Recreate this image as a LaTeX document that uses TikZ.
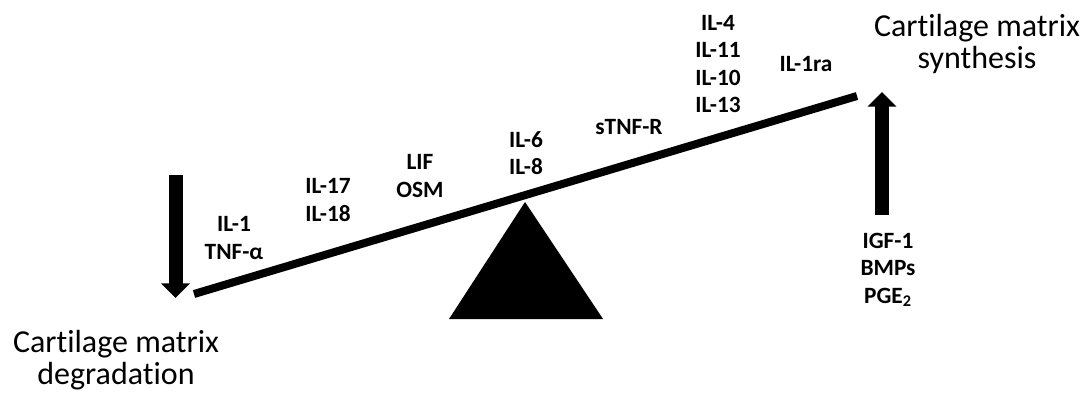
\documentclass[tikz,border=0pt]{standalone}
\usepackage{fontspec}
\setmainfont{Carlito}[Ligatures=NoCommon]
\usetikzlibrary{arrows.meta}

\tikzset{
  cyto/.style={font=\fontsize{17.5}{20.6}\selectfont\bfseries, align=center, inner sep=0pt},
  outcome/.style={font=\fontsize{24}{23.5}\selectfont, align=center, inner sep=0pt},
  blockarrow/.style={line width=10.5pt, -{Triangle[length=11pt,width=21pt]}}
}

\begin{document}
\begin{tikzpicture}[x=0.75pt,y=-0.75pt]
  \useasboundingbox (0,0) rectangle (1082,393);
  % seesaw
  \coordinate (beamL) at (194,294);
  \coordinate (beamR) at (857,96);
  \coordinate (apex) at (525,202);
  \coordinate (baseL) at (449,319);
  \coordinate (baseR) at (603,319);
  \fill (apex) -- (baseR) -- (baseL) -- cycle;
  \draw[line width=6pt] (beamL) -- (beamR);

  % arrows
  \coordinate (downtop) at (175.5,175);
  \coordinate (downtip) at (175.5,298);
  \coordinate (upbot) at (882,215);
  \coordinate (uptip) at (882,92);
  \draw[blockarrow] (downtop) -- (downtip);
  \draw[blockarrow] (upbot) -- (uptip);

  % cytokines
  \node[cyto] (il1) at (234,238) {IL-1\\TNF-α};
  \node[cyto] (il17) at (328,200) {IL-17\\IL-18};
  \node[cyto] (lif) at (420,176) {LIF\\OSM};
  \node[cyto] (il6) at (526,153) {IL-6\\IL-8};
  \node[cyto] (stnf) at (629,127) {sTNF-R};
  \node[cyto] (il4) at (718,64) {IL-4\\IL-11\\IL-10\\IL-13};
  \node[cyto] (il1ra) at (806,64) {IL-1ra};
  \node[cyto] (igf) at (888,270) {IGF-1\\BMPs\\PGE\textsubscript{2}};

  % outcomes
  \node[outcome] (degr) at (116,360) {Cartilage matrix\\degradation};
  \node[outcome] (synth) at (977,44) {Cartilage matrix\\synthesis};
\end{tikzpicture}
\end{document}
